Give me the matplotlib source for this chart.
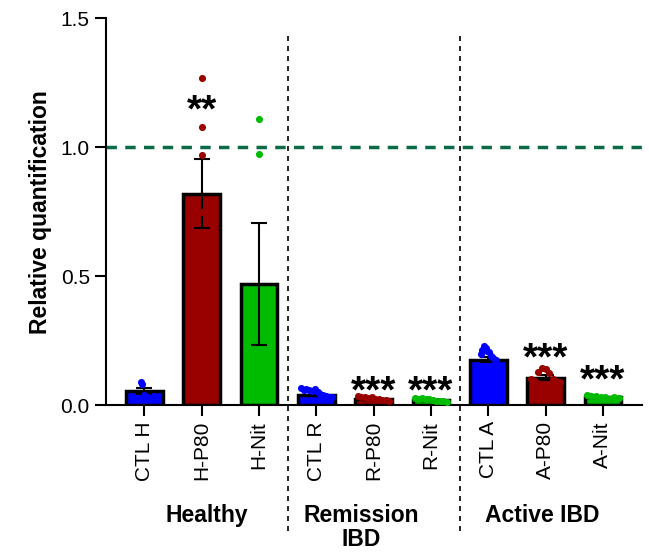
import numpy as np
import matplotlib
matplotlib.use("Agg")
import matplotlib.pyplot as plt
import matplotlib.transforms as mtransforms

plt.rcParams['font.family'] = ['Liberation Sans', 'DejaVu Sans']

# Data
labels = ["CTL H", "H-P80", "H-Nit", "CTL R", "R-P80", "R-Nit", "CTL A", "A-P80", "A-Nit"]
means = [0.055, 0.82, 0.47, 0.04, 0.025, 0.02, 0.177, 0.107, 0.03]
sems = [0.012, 0.135, 0.235, 0.004, 0.003, 0.002, 0.01, 0.008, 0.003]
colors = ["#0000ff", "#990000", "#00bb00"] * 3

ctl_h = [0.089, 0.082, 0.04, 0.03, 0.03]
h_p80 = [1.27, 1.08, 0.97, 0.75, 0.6, 0.25]
h_nit = [1.11, 0.975, 0.15, 0.05, 0.07]
ctl_r = [0.065, 0.06, 0.062, 0.058, 0.055, 0.063, 0.05, 0.045, 0.04, 0.035, 0.03, 0.03]
r_p80 = [0.035, 0.03, 0.032, 0.028, 0.03, 0.025, 0.022, 0.02, 0.02, 0.018]
r_nit = [0.028, 0.025, 0.026, 0.022, 0.024, 0.02, 0.018, 0.015, 0.015, 0.012]
ctl_a = [0.2, 0.213, 0.228, 0.22, 0.21, 0.205, 0.19, 0.185, 0.18, 0.175]
a_p80 = [0.1, 0.095, 0.13, 0.145, 0.14, 0.125, 0.1, 0.095, 0.09]
a_nit = [0.04, 0.035, 0.035, 0.03, 0.03, 0.025, 0.03, 0.028]
points = [ctl_h, h_p80, h_nit, ctl_r, r_p80, r_nit, ctl_a, a_p80, a_nit]

stars = {1: ("**", 1.14), 4: ("***", 0.05), 5: ("***", 0.05), 7: ("***", 0.176), 8: ("***", 0.092)}
groups = [("Healthy", 1.09), ("Remission\nIBD", 3.78), ("Active IBD", 6.94)]
dividers = [2.5, 5.5]

# horizontal spread of the dots per bar (GraphPad-like scatter)
spread = [0.06, 0.0, 0.0, 0.27, 0.27, 0.28, 0.13, 0.25, 0.28]

fig = plt.figure(figsize=(6.49, 5.55), dpi=100)
ax = fig.add_axes([0.163, 0.27, 0.826, 0.697])

x = np.arange(len(labels))
ax.bar(x, means, width=0.64, color=colors, edgecolor="black", linewidth=2.5, zorder=2)
ax.errorbar(x, means, yerr=sems, fmt="none", ecolor="black", elinewidth=1.5,
            capsize=5.5, capthick=1.5, zorder=3)

for i, pts in enumerate(points):
    offs = np.linspace(-spread[i], spread[i], len(pts))
    ax.scatter(x[i] + offs, pts, s=26, color=colors[i], zorder=4, linewidths=0)

for i, (txt, yv) in stars.items():
    ax.text(x[i], yv, txt, ha="center", va="center", fontsize=28, fontweight="bold", zorder=5)

ax.axhline(1.0, color="#0a6b46", linestyle=(0, (3, 2.4)), linewidth=2.5, zorder=1)

trans = mtransforms.blended_transform_factory(ax.transData, ax.transAxes)
for d in dividers:
    ax.plot([d, d], [-0.326, 0.956], transform=trans, color="black", linestyle=(0, (3, 3)),
            linewidth=1.2, clip_on=False, zorder=1)

for name, xc in groups:
    ax.text(xc, -0.255, name, transform=trans, ha="center", va="top", fontsize=16.5,
            fontweight="bold", linespacing=1.05)

ax.set_xlim(-0.67, 8.68)
ax.set_ylim(0, 1.5)
ax.set_yticks([0.0, 0.5, 1.0, 1.5])
ax.set_yticklabels(["0.0", "0.5", "1.0", "1.5"])
ax.set_xticks(x)
ax.set_xticklabels(labels, rotation=90)
ax.tick_params(axis="both", labelsize=15, width=1.5, length=8)
ax.set_ylabel("Relative quantification", fontsize=16.5, fontweight="bold", labelpad=6)

for s in ["top", "right"]:
    ax.spines[s].set_visible(False)
for s in ["left", "bottom"]:
    ax.spines[s].set_linewidth(1.5)

fig.savefig("out.png", dpi=100)
